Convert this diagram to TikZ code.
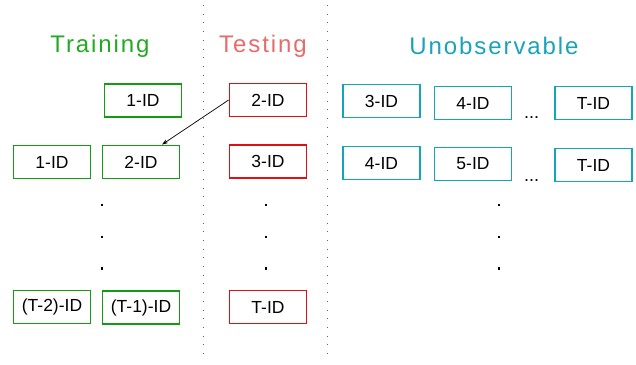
\documentclass[tikz,border=0pt]{standalone}
\usepackage{fontspec}
\setmainfont{Liberation Sans}
\usetikzlibrary{arrows.meta,calc}
\definecolor{trainbox}{RGB}{20,155,20}
\definecolor{traintxt}{RGB}{34,170,34}
\definecolor{testbox}{RGB}{221,17,17}
\definecolor{testtxt}{RGB}{232,106,106}
\definecolor{unobbox}{RGB}{18,166,184}
\definecolor{unobtxt}{RGB}{26,163,184}
\begin{document}
\begin{tikzpicture}[x=1pt,y=-1pt,
  idbox/.style={draw,line width=1.8pt,minimum width=77pt,minimum height=33pt,
    inner sep=0pt,font=\fontsize{17.5}{20}\selectfont},
  trainid/.style={idbox,draw=trainbox},
  testid/.style={idbox,draw=testbox},
  unobid/.style={idbox,draw=unobbox},
  title/.style={anchor=base,inner sep=0pt,
    font=\fontsize{24}{28}\selectfont\addfontfeatures{LetterSpace=8}},
  sep/.style={gray!80!black,line width=0.8pt,dash pattern=on 0.8pt off 7.9pt},
  vdot/.style={fill=black},
  hdots/.style={anchor=base,inner sep=0pt,font=\fontsize{18}{20}\selectfont},
]
\useasboundingbox (0,0) rectangle (636,364);

% column separators
\draw[sep] (203,5) -- (203,358);
\draw[sep] (327,5) -- (327,358);

% column titles
\node[title,text=traintxt] (ttrain) at (100,52.3) {Training};
\node[title,text=testtxt] (ttest) at (263,52.3) {Testing};
\node[title,text=unobtxt] (tunob) at (494,54) {Unobservable};

% training column
\node[trainid] (a1) at (143,100.5) {1-ID};
\node[trainid] (b1) at (52,162) {1-ID};
\node[trainid] (b2) at (141,162) {2-ID};
\node[trainid] (c1) at (52,307) {(T-2)-ID};
\node[trainid] (c2) at (141,307.5) {(T-1)-ID};

% testing column
\node[testid] (s2) at (268,100) {2-ID};
\node[testid] (s3) at (268,161.5) {3-ID};
\node[testid] (sT) at (268,307) {T-ID};

% unobservable rows
\node[unobid] (u3) at (381.5,101) {3-ID};
\node[unobid] (u4) at (473,103) {4-ID};
\node[unobid] (uT) at (593.5,103) {T-ID};
\node[unobid] (v4) at (381.5,163) {4-ID};
\node[unobid] (v5) at (473,164) {5-ID};
\node[unobid] (vT) at (593.5,165) {T-ID};

\node[hdots] (h1) at (531.5,118.5) {...};
\node[hdots] (h2) at (531.5,181) {...};

% vertical ellipses
\foreach \x/\c in {102/tr,266/te,499/un}{
  \foreach \y [count=\i] in {205,237,268.5}{
    \fill[vdot] (\x-1.3,\y-1.3) rectangle (\x+1.3,\y+1.3);
  }
}

% shift of the tested identity into training
\draw[line width=0.7pt,-{Stealth[length=6pt,width=4pt]}]
  (s2.west) -- ($(b2.north)+(21,0)$);
\end{tikzpicture}
\end{document}
